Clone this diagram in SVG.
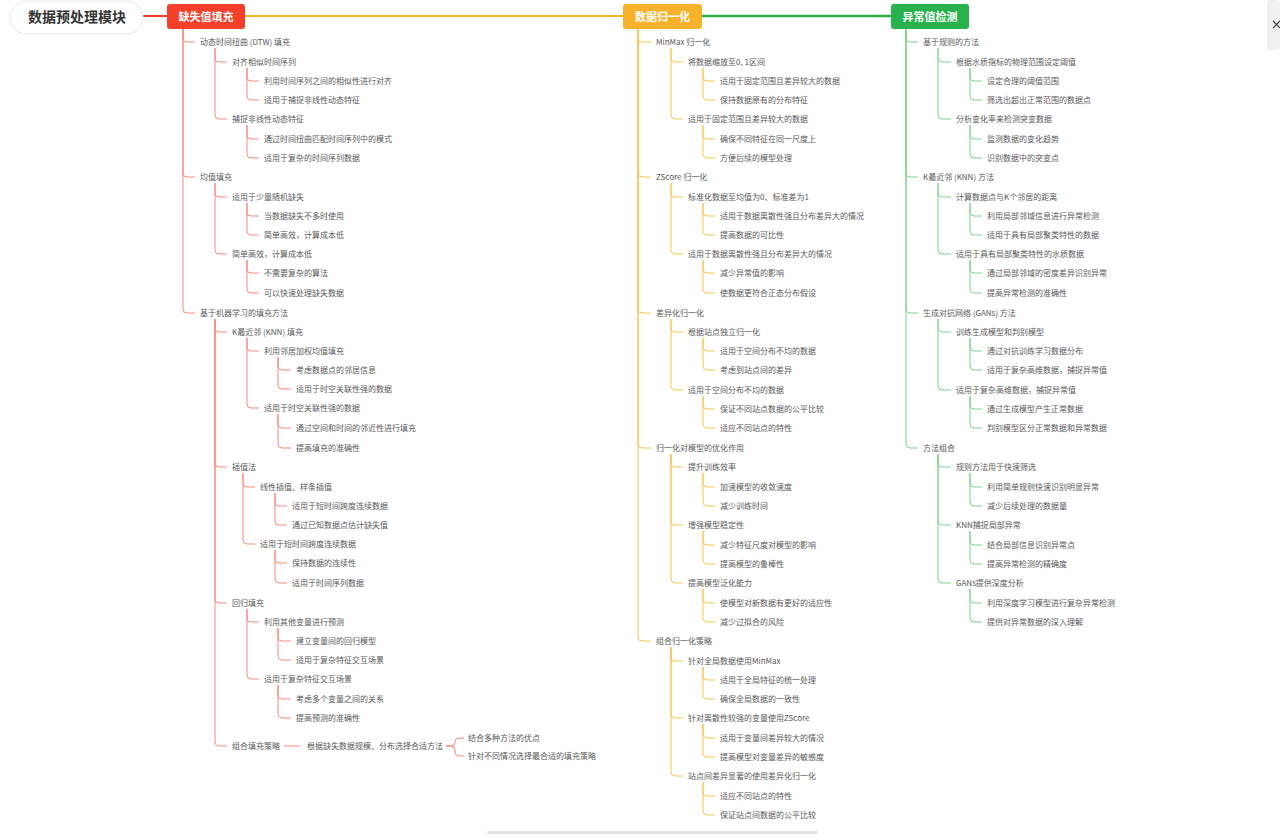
<svg xmlns="http://www.w3.org/2000/svg" width="1280" height="834" viewBox="0 0 1280 834">
<style>
text{font-family:"Noto Sans CJK SC","Liberation Sans",sans-serif;}
.t{font-size:8px;fill:#595959;}
.hd{font-size:11px;font-weight:bold;fill:#ffffff;text-anchor:middle;}
.rt{font-size:14px;font-weight:bold;fill:#333333;text-anchor:middle;}
.cr{fill:none;stroke:#f7897d;stroke-width:1;}
.co{fill:none;stroke:#f9c452;stroke-width:1;}
.cg{fill:none;stroke:#7fd18e;stroke-width:1;}
</style>
<rect width="1280" height="834" fill="#ffffff"/>
<g id="chrome">
<rect x="1267" y="0" width="13" height="50" rx="3" fill="#f1f1f1"/>
<path d="M1273,21 L1280,28 M1280,21 L1273,28" stroke="#444444" stroke-width="1.2" fill="none"/>
<rect x="487" y="831" width="331" height="3" rx="1.5" fill="#e3e3e3"/>
</g>
<g id="connectors">
<path d="M143,16 H167" stroke="#f03c2e" stroke-width="2" fill="none"/>
<path d="M245,16 H623" stroke="#f8b12a" stroke-width="2" fill="none"/>
<path d="M702,16 H891" stroke="#2aad4a" stroke-width="2.5" fill="none"/>
<g id="conn-left" class="cr">
<path d="M183,29 V38 Q183,42 187,42 H195 M183,29 V173 Q183,177 187,177 H195 M183,29 V309 Q183,313 187,313 H195"/>
<path d="M215,48 V58 Q215,62 219,62 H227 M215,48 V115 Q215,119 219,119 H227"/>
<path d="M247,68 V77 Q247,81 251,81 H259 M247,68 V96 Q247,100 251,100 H259 M247,125 V135 Q247,139 251,139 H259 M247,125 V154 Q247,158 251,158 H259"/>
<path d="M215,183 V193 Q215,197 219,197 H227 M215,183 V250 Q215,254 219,254 H227"/>
<path d="M247,203 V212 Q247,216 251,216 H259 M247,203 V231 Q247,235 251,235 H259 M247,260 V269 Q247,273 251,273 H259 M247,260 V289 Q247,293 251,293 H259"/>
<path d="M215,319 V328 Q215,332 219,332 H227 M215,319 V463 Q215,467 219,467 H227 M215,319 V599 Q215,603 219,603 H227 M215,319 V742 Q215,746 219,746 H227"/>
<path d="M247,338 V347 Q247,351 251,351 H259 M247,338 V404 Q247,408 251,408 H259"/>
<path d="M278,357 V366 Q278,370 282,370 H291 M278,357 V385 Q278,389 282,389 H291 M278,414 V424 Q278,428 282,428 H291 M278,414 V444 Q278,448 282,448 H291"/>
<path d="M243,473 V483 Q243,487 247,487 H255 M243,473 V540 Q243,544 247,544 H255"/>
<path d="M275,493 V502 Q275,506 279,506 H287 M275,493 V521 Q275,525 279,525 H287 M275,550 V559 Q275,563 279,563 H287 M275,550 V579 Q275,583 279,583 H287"/>
<path d="M247,609 V618 Q247,622 251,622 H259 M247,609 V675 Q247,679 251,679 H259"/>
<path d="M278,628 V637 Q278,641 282,641 H291 M278,628 V656 Q278,660 282,660 H291 M278,685 V695 Q278,699 282,699 H291 M278,685 V714 Q278,718 282,718 H291"/>
<path d="M284,746 H300"/>
<path d="M446,746 H451 Q455,746 455,742 V742 Q455,738 459,738 H464 M446,746 H451 Q455,746 455,750 V752 Q455,756 459,756 H464"/>
</g>
<g id="conn-mid" class="co">
<path d="M638,29 V38 Q638,42 642,42 H651 M638,29 V173 Q638,177 642,177 H651 M638,29 V309 Q638,313 642,313 H651 M638,29 V444 Q638,448 642,448 H651 M638,29 V637 Q638,641 642,641 H651"/>
<path d="M671,48 V58 Q671,62 675,62 H683 M671,48 V115 Q671,119 675,119 H683"/>
<path d="M703,68 V77 Q703,81 707,81 H715 M703,68 V96 Q703,100 707,100 H715 M703,125 V135 Q703,139 707,139 H715 M703,125 V154 Q703,158 707,158 H715"/>
<path d="M671,183 V193 Q671,197 675,197 H683 M671,183 V250 Q671,254 675,254 H683"/>
<path d="M703,203 V212 Q703,216 707,216 H715 M703,203 V231 Q703,235 707,235 H715 M703,260 V269 Q703,273 707,273 H715 M703,260 V289 Q703,293 707,293 H715"/>
<path d="M671,319 V328 Q671,332 675,332 H683 M671,319 V386 Q671,390 675,390 H683"/>
<path d="M703,338 V347 Q703,351 707,351 H715 M703,338 V366 Q703,370 707,370 H715 M703,396 V405 Q703,409 707,409 H715 M703,396 V424 Q703,428 707,428 H715"/>
<path d="M671,454 V463 Q671,467 675,467 H683 M671,454 V521 Q671,525 675,525 H683 M671,454 V579 Q671,583 675,583 H683"/>
<path d="M703,473 V483 Q703,487 707,487 H715 M703,473 V502 Q703,506 707,506 H715 M703,531 V541 Q703,545 707,545 H715 M703,531 V560 Q703,564 707,564 H715 M703,589 V599 Q703,603 707,603 H715 M703,589 V618 Q703,622 707,622 H715"/>
<path d="M671,647 V657 Q671,661 675,661 H683 M671,647 V714 Q671,718 675,718 H683 M671,647 V772 Q671,776 675,776 H683"/>
<path d="M703,667 V676 Q703,680 707,680 H715 M703,667 V695 Q703,699 707,699 H715 M703,724 V734 Q703,738 707,738 H715 M703,724 V753 Q703,757 707,757 H715 M703,782 V792 Q703,796 707,796 H715 M703,782 V811 Q703,815 707,815 H715"/>
</g>
<g id="conn-right" class="cg">
<path d="M906,29 V38 Q906,42 910,42 H918 M906,29 V173 Q906,177 910,177 H918 M906,29 V309 Q906,313 910,313 H918 M906,29 V444 Q906,448 910,448 H918"/>
<path d="M938,48 V58 Q938,62 942,62 H951 M938,48 V115 Q938,119 942,119 H951"/>
<path d="M970,68 V77 Q970,81 974,81 H982 M970,68 V96 Q970,100 974,100 H982 M970,125 V135 Q970,139 974,139 H982 M970,125 V154 Q970,158 974,158 H982"/>
<path d="M938,183 V193 Q938,197 942,197 H951 M938,183 V250 Q938,254 942,254 H951"/>
<path d="M970,203 V212 Q970,216 974,216 H982 M970,203 V231 Q970,235 974,235 H982 M970,260 V269 Q970,273 974,273 H982 M970,260 V289 Q970,293 974,293 H982"/>
<path d="M938,319 V328 Q938,332 942,332 H951 M938,319 V386 Q938,390 942,390 H951"/>
<path d="M970,338 V347 Q970,351 974,351 H982 M970,338 V366 Q970,370 974,370 H982 M970,396 V405 Q970,409 974,409 H982 M970,396 V424 Q970,428 974,428 H982"/>
<path d="M938,454 V463 Q938,467 942,467 H951 M938,454 V521 Q938,525 942,525 H951 M938,454 V579 Q938,583 942,583 H951"/>
<path d="M970,473 V483 Q970,487 974,487 H982 M970,473 V502 Q970,506 974,506 H982 M970,531 V541 Q970,545 974,545 H982 M970,531 V560 Q970,564 974,564 H982 M970,589 V599 Q970,603 974,603 H982 M970,589 V618 Q970,622 974,622 H982"/>
</g>
</g>
<g id="root"><rect x="10" y="1" width="133" height="33" rx="16.5" fill="#ffffff" stroke="#e6e6e6" stroke-width="1"/><text class="rt" x="77" y="22">数据预处理模块</text></g>
<g id="h-missing"><rect x="167" y="4" width="78" height="25" rx="3" fill="#f5402c"/><text class="hd" x="206" y="20.5">缺失值填充</text></g>
<g id="h-norm"><rect x="623" y="4" width="79" height="25" rx="3" fill="#f8b12a"/><text class="hd" x="662.5" y="20.5">数据归一化</text></g>
<g id="h-outlier"><rect x="891" y="4" width="78" height="25" rx="3" fill="#28b14c"/><text class="hd" x="930" y="20.5">异常值检测</text></g>
<g id="left-nodes" class="t">
<g id="l1"><text class="t" x="200" y="45">动态时间扭曲 (DTW) 填充</text></g>
<g id="l2"><text class="t" x="232" y="65">对齐相似时间序列</text></g>
<g id="l3"><text class="t" x="264" y="84">利用时间序列之间的相似性进行对齐</text></g>
<g id="l4"><text class="t" x="264" y="103">适用于捕捉非线性动态特征</text></g>
<g id="l5"><text class="t" x="232" y="122">捕捉非线性动态特征</text></g>
<g id="l6"><text class="t" x="264" y="142">通过时间扭曲匹配时间序列中的模式</text></g>
<g id="l7"><text class="t" x="264" y="161">适用于复杂的时间序列数据</text></g>
<g id="l8"><text class="t" x="200" y="180">均值填充</text></g>
<g id="l9"><text class="t" x="232" y="200">适用于少量随机缺失</text></g>
<g id="l10"><text class="t" x="264" y="219">当数据缺失不多时使用</text></g>
<g id="l11"><text class="t" x="264" y="238">简单高效，计算成本低</text></g>
<g id="l12"><text class="t" x="232" y="257">简单高效，计算成本低</text></g>
<g id="l13"><text class="t" x="264" y="276">不需要复杂的算法</text></g>
<g id="l14"><text class="t" x="264" y="296">可以快速处理缺失数据</text></g>
<g id="l15"><text class="t" x="200" y="316">基于机器学习的填充方法</text></g>
<g id="l16"><text class="t" x="232" y="335">K最近邻 (KNN) 填充</text></g>
<g id="l17"><text class="t" x="264" y="354">利用邻居加权均值填充</text></g>
<g id="l18"><text class="t" x="296" y="373">考虑数据点的邻居信息</text></g>
<g id="l19"><text class="t" x="296" y="392">适用于时空关联性强的数据</text></g>
<g id="l20"><text class="t" x="264" y="411">适用于时空关联性强的数据</text></g>
<g id="l21"><text class="t" x="296" y="431">通过空间和时间的邻近性进行填充</text></g>
<g id="l22"><text class="t" x="296" y="451">提高填充的准确性</text></g>
<g id="l23"><text class="t" x="232" y="470">插值法</text></g>
<g id="l24"><text class="t" x="260" y="490">线性插值、样条插值</text></g>
<g id="l25"><text class="t" x="292" y="509">适用于短时间跨度连续数据</text></g>
<g id="l26"><text class="t" x="292" y="528">通过已知数据点估计缺失值</text></g>
<g id="l27"><text class="t" x="260" y="547">适用于短时间跨度连续数据</text></g>
<g id="l28"><text class="t" x="292" y="566">保持数据的连续性</text></g>
<g id="l29"><text class="t" x="292" y="586">适用于时间序列数据</text></g>
<g id="l30"><text class="t" x="232" y="606">回归填充</text></g>
<g id="l31"><text class="t" x="264" y="625">利用其他变量进行预测</text></g>
<g id="l32"><text class="t" x="296" y="644">建立变量间的回归模型</text></g>
<g id="l33"><text class="t" x="296" y="663">适用于复杂特征交互场景</text></g>
<g id="l34"><text class="t" x="264" y="682">适用于复杂特征交互场景</text></g>
<g id="l35"><text class="t" x="296" y="702">考虑多个变量之间的关系</text></g>
<g id="l36"><text class="t" x="296" y="721">提高预测的准确性</text></g>
<g id="l37"><text class="t" x="232" y="749">组合填充策略</text></g>
<g id="l38"><text class="t" x="307" y="749">根据缺失数据规模、分布选择合适方法</text></g>
<g id="l39"><text class="t" x="468" y="741">结合多种方法的优点</text></g>
<g id="l40"><text class="t" x="468" y="759">针对不同情况选择最合适的填充策略</text></g>
</g>
<g id="mid-nodes">
<g id="m1"><text class="t" x="656" y="45">MinMax 归一化</text></g>
<g id="m2"><text class="t" x="688" y="65">将数据缩放至0, 1区间</text></g>
<g id="m3"><text class="t" x="720" y="84">适用于固定范围且差异较大的数据</text></g>
<g id="m4"><text class="t" x="720" y="103">保持数据原有的分布特征</text></g>
<g id="m5"><text class="t" x="688" y="122">适用于固定范围且差异较大的数据</text></g>
<g id="m6"><text class="t" x="720" y="142">确保不同特征在同一尺度上</text></g>
<g id="m7"><text class="t" x="720" y="161">方便后续的模型处理</text></g>
<g id="m8"><text class="t" x="656" y="180">ZScore 归一化</text></g>
<g id="m9"><text class="t" x="688" y="200">标准化数据至均值为0、标准差为1</text></g>
<g id="m10"><text class="t" x="720" y="219">适用于数据离散性强且分布差异大的情况</text></g>
<g id="m11"><text class="t" x="720" y="238">提高数据的可比性</text></g>
<g id="m12"><text class="t" x="688" y="257">适用于数据离散性强且分布差异大的情况</text></g>
<g id="m13"><text class="t" x="720" y="276">减少异常值的影响</text></g>
<g id="m14"><text class="t" x="720" y="296">使数据更符合正态分布假设</text></g>
<g id="m15"><text class="t" x="656" y="316">差异化归一化</text></g>
<g id="m16"><text class="t" x="688" y="335">根据站点独立归一化</text></g>
<g id="m17"><text class="t" x="720" y="354">适用于空间分布不均的数据</text></g>
<g id="m18"><text class="t" x="720" y="373">考虑到站点间的差异</text></g>
<g id="m19"><text class="t" x="688" y="393">适用于空间分布不均的数据</text></g>
<g id="m20"><text class="t" x="720" y="412">保证不同站点数据的公平比较</text></g>
<g id="m21"><text class="t" x="720" y="431">适应不同站点的特性</text></g>
<g id="m22"><text class="t" x="656" y="451">归一化对模型的优化作用</text></g>
<g id="m23"><text class="t" x="688" y="470">提升训练效率</text></g>
<g id="m24"><text class="t" x="720" y="490">加速模型的收敛速度</text></g>
<g id="m25"><text class="t" x="720" y="509">减少训练时间</text></g>
<g id="m26"><text class="t" x="688" y="528">增强模型稳定性</text></g>
<g id="m27"><text class="t" x="720" y="548">减少特征尺度对模型的影响</text></g>
<g id="m28"><text class="t" x="720" y="567">提高模型的鲁棒性</text></g>
<g id="m29"><text class="t" x="688" y="586">提高模型泛化能力</text></g>
<g id="m30"><text class="t" x="720" y="606">使模型对新数据有更好的适应性</text></g>
<g id="m31"><text class="t" x="720" y="625">减少过拟合的风险</text></g>
<g id="m32"><text class="t" x="656" y="644">组合归一化策略</text></g>
<g id="m33"><text class="t" x="688" y="664">针对全局数据使用MinMax</text></g>
<g id="m34"><text class="t" x="720" y="683">适用于全局特征的统一处理</text></g>
<g id="m35"><text class="t" x="720" y="702">确保全局数据的一致性</text></g>
<g id="m36"><text class="t" x="688" y="721">针对离散性较强的变量使用ZScore</text></g>
<g id="m37"><text class="t" x="720" y="741">适用于变量间差异较大的情况</text></g>
<g id="m38"><text class="t" x="720" y="760">提高模型对变量差异的敏感度</text></g>
<g id="m39"><text class="t" x="688" y="779">站点间差异显著的使用差异化归一化</text></g>
<g id="m40"><text class="t" x="720" y="799">适应不同站点的特性</text></g>
<g id="m41"><text class="t" x="720" y="818">保证站点间数据的公平比较</text></g>
</g>
<g id="right-nodes">
<g id="r1"><text class="t" x="923" y="45">基于规则的方法</text></g>
<g id="r2"><text class="t" x="956" y="65">根据水质指标的物理范围设定阈值</text></g>
<g id="r3"><text class="t" x="987" y="84">设定合理的阈值范围</text></g>
<g id="r4"><text class="t" x="987" y="103">筛选出超出正常范围的数据点</text></g>
<g id="r5"><text class="t" x="956" y="122">分析变化率来检测突变数据</text></g>
<g id="r6"><text class="t" x="987" y="142">监测数据的变化趋势</text></g>
<g id="r7"><text class="t" x="987" y="161">识别数据中的突变点</text></g>
<g id="r8"><text class="t" x="923" y="180">K最近邻 (KNN) 方法</text></g>
<g id="r9"><text class="t" x="956" y="200">计算数据点与K个邻居的距离</text></g>
<g id="r10"><text class="t" x="987" y="219">利用局部邻域信息进行异常检测</text></g>
<g id="r11"><text class="t" x="987" y="238">适用于具有局部聚类特性的数据</text></g>
<g id="r12"><text class="t" x="956" y="257">适用于具有局部聚类特性的水质数据</text></g>
<g id="r13"><text class="t" x="987" y="276">通过局部邻域的密度差异识别异常</text></g>
<g id="r14"><text class="t" x="987" y="296">提高异常检测的准确性</text></g>
<g id="r15"><text class="t" x="923" y="316">生成对抗网络 (GANs) 方法</text></g>
<g id="r16"><text class="t" x="956" y="335">训练生成模型和判别模型</text></g>
<g id="r17"><text class="t" x="987" y="354">通过对抗训练学习数据分布</text></g>
<g id="r18"><text class="t" x="987" y="373">适用于复杂高维数据，捕捉异常值</text></g>
<g id="r19"><text class="t" x="956" y="393">适用于复杂高维数据，捕捉异常值</text></g>
<g id="r20"><text class="t" x="987" y="412">通过生成模型产生正常数据</text></g>
<g id="r21"><text class="t" x="987" y="431">判别模型区分正常数据和异常数据</text></g>
<g id="r22"><text class="t" x="923" y="451">方法组合</text></g>
<g id="r23"><text class="t" x="956" y="470">规则方法用于快速筛选</text></g>
<g id="r24"><text class="t" x="987" y="490">利用简单规则快速识别明显异常</text></g>
<g id="r25"><text class="t" x="987" y="509">减少后续处理的数据量</text></g>
<g id="r26"><text class="t" x="956" y="528">KNN捕捉局部异常</text></g>
<g id="r27"><text class="t" x="987" y="548">结合局部信息识别异常点</text></g>
<g id="r28"><text class="t" x="987" y="567">提高异常检测的精确度</text></g>
<g id="r29"><text class="t" x="956" y="586">GANs提供深度分析</text></g>
<g id="r30"><text class="t" x="987" y="606">利用深度学习模型进行复杂异常检测</text></g>
<g id="r31"><text class="t" x="987" y="625">提供对异常数据的深入理解</text></g>
</g>
</svg>
